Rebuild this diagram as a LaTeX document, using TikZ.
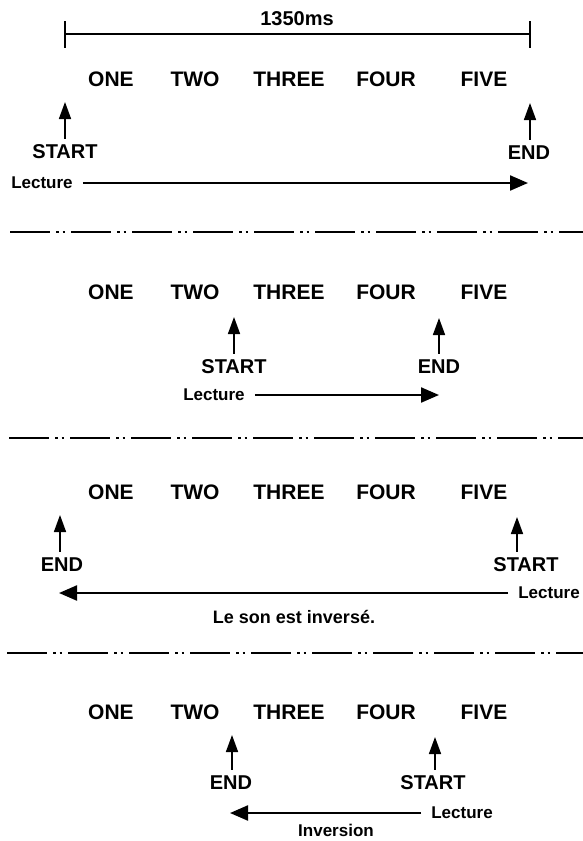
\documentclass[tikz,border=0pt]{standalone}
\usepackage{fontspec}
\setmainfont{Liberation Sans}
\usetikzlibrary{arrows.meta,positioning}

\begin{document}
\begin{tikzpicture}[
    x=1pt, y=-1pt,
    word/.style={font=\fontsize{21}{21}\selectfont\bfseries, inner sep=0pt},
    tag/.style={font=\fontsize{20}{20}\selectfont\bfseries, inner sep=0pt},
    note/.style={font=\fontsize{17}{17}\selectfont\bfseries, inner sep=0pt},
    uparrow/.style={-{Triangle[length=17pt,width=12pt]}, line width=1.6pt, shorten <=6pt},
    readarrow/.style={-{Triangle[length=18pt,width=15pt]}, line width=2.2pt, shorten <=10pt},
    sep/.style={line width=2pt, dash pattern=on 40pt off 6pt on 2.5pt off 4pt on 2.5pt off 6pt}
  ]
    \useasboundingbox (0,0) rectangle (583,841);

    % the five words, four times
    \foreach \r/\y in {1/79, 2/292, 3/492, 4/712}
      \foreach \w/\x in {ONE/111, TWO/195, THREE/289, FOUR/386, FIVE/484}
        \node[word] (\w\r) at (\x,\y) {\w};

    % duration bar
    \coordinate (barL) at (65,34);
    \coordinate (barR) at (530,34);
    \draw[line width=2pt] (barL) -- (barR);
    \draw[line width=2pt] ([yshift=13pt]barL) -- ([yshift=-14pt]barL);
    \draw[line width=2pt] ([yshift=13pt]barR) -- ([yshift=-14pt]barR);
    \node[tag] (dur) at (297,19) {1350ms};

    % 1: normal reading
    \node[tag] (start1) at (65,152) {START};
    \node[tag] (end1) at (529,153) {END};
    \coordinate (ps1) at (65,102);
    \coordinate (pe1) at (530,103);
    \draw[uparrow] (start1.north -| ps1) -- (ps1);
    \draw[uparrow] (end1.north -| pe1) -- (pe1);
    \node[note] (lect1) at (42,183) {Lecture};
    \coordinate (tip1) at (528,183);
    \draw[readarrow] (lect1) -- (tip1);

    \draw[sep] (10,232) -- (583,232);

    % 2: part of the sound
    \node[tag] (start2) at (234,367) {START};
    \node[tag] (end2) at (439,367) {END};
    \coordinate (ps2) at (234,317);
    \coordinate (pe2) at (439,318);
    \draw[uparrow] (start2.north -| ps2) -- (ps2);
    \draw[uparrow] (end2.north -| pe2) -- (pe2);
    \node[note] (lect2) at (214,395) {Lecture};
    \coordinate (tip2) at (439,395);
    \draw[readarrow] (lect2) -- (tip2);

    \draw[sep] (9,438) -- (583,438);

    % 3: reversed
    \node[tag] (end3) at (62,565) {END};
    \node[tag] (start3) at (526,565) {START};
    \coordinate (pe3) at (60,515);
    \coordinate (ps3) at (517,517);
    \draw[uparrow] (end3.north -| pe3) -- (pe3);
    \draw[uparrow] (start3.north -| ps3) -- (ps3);
    \node[note] (lect3) at (549,593) {Lecture};
    \coordinate (tip3) at (59,593);
    \draw[readarrow] (lect3) -- (tip3);
    \node[note, font=\fontsize{18}{18}\selectfont\bfseries] (rev) at (294,617) {Le son est inversé.};

    \draw[sep] (7,653) -- (583,653);

    % 4: reversed part
    \node[tag] (end4) at (231,783) {END};
    \node[tag] (start4) at (433,783) {START};
    \coordinate (pe4) at (232,735);
    \coordinate (ps4) at (435,737);
    \draw[uparrow] (end4.north -| pe4) -- (pe4);
    \draw[uparrow] (start4.north -| ps4) -- (ps4);
    \node[note] (lect4) at (462,813) {Lecture};
    \coordinate (tip4) at (230,813);
    \draw[readarrow] (lect4) -- (tip4);
    \node[note] (inv) at (336,830) {Inversion};
  \end{tikzpicture}
\end{document}
